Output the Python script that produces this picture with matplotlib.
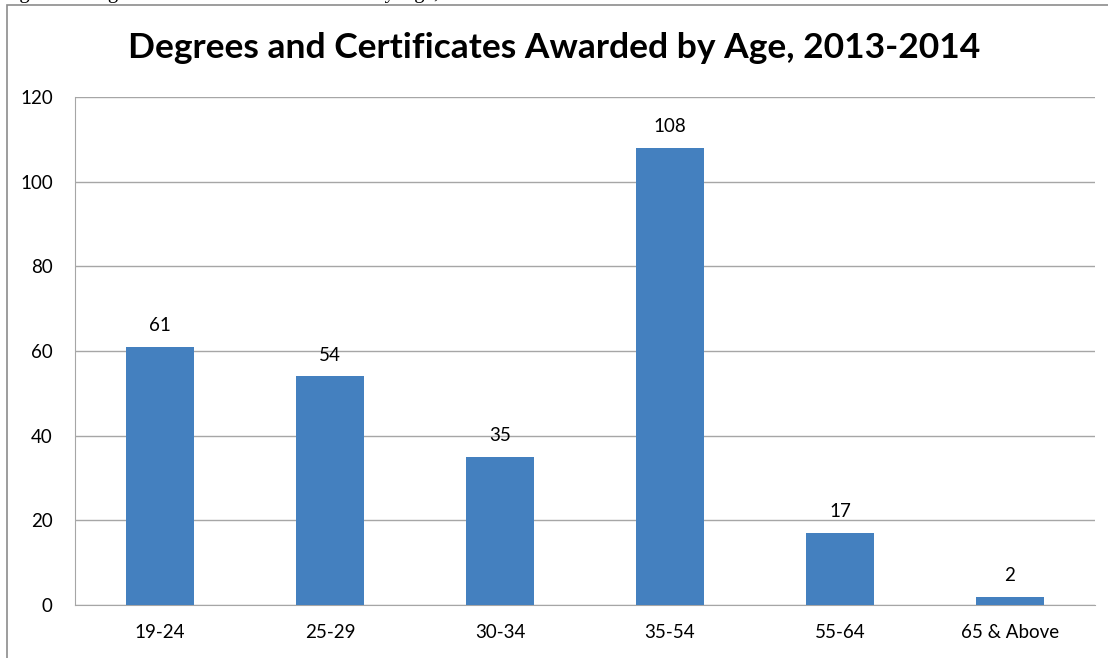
import matplotlib.pyplot as plt
from matplotlib.patches import Rectangle

# data
age_groups = ["19-24", "25-29", "30-34", "35-54", "55-64", "65 & Above"]
awards = [61, 54, 35, 108, 17, 2]
y_ticks = [0, 20, 40, 60, 80, 100, 120]

plt.rcParams['font.family'] = ['Lato', 'DejaVu Sans']

fig = plt.figure(figsize=(11.08, 6.58), dpi=100)

# caption of the page, mostly cut off at the top edge
fig.text(0.002, 1 + 2 / 658, "Figure 8: Degrees and Certificates Awarded by Age, 2013-2014",
         family='Liberation Serif', fontsize=15, va='baseline', ha='left')

# chart frame
fig.patches.append(Rectangle((7 / 1108, -0.1), 1.2, 1 - 5 / 658 + 0.1,
                             transform=fig.transFigure, fill=False,
                             edgecolor='#8c8c8c', linewidth=1.2))

ax = fig.add_axes([75 / 1108, 53 / 658, 1020 / 1108, 508 / 658])
x = range(len(age_groups))
bars = ax.bar(x, awards, width=0.4, color='#4480bf', zorder=3)
for b, v in zip(bars, awards):
    ax.text(b.get_x() + b.get_width() / 2, v + 3, str(v),
            ha='center', va='bottom', fontsize=13.5)

ax.set_xlim(-0.5, len(age_groups) - 0.5)
ax.set_ylim(0, 120)
ax.set_yticks(y_ticks)
ax.set_xticks(list(x))
ax.set_xticklabels(age_groups)
ax.tick_params(axis='both', length=0, labelsize=13.5, pad=14)
ax.tick_params(axis='y', pad=16)
ax.yaxis.grid(True, color='#a6a6a6', linewidth=1, zorder=0)
for side in ['top', 'right']:
    ax.spines[side].set_visible(False)
for side in ['left', 'bottom']:
    ax.spines[side].set_color('#a6a6a6')

fig.text(0.5, 1 - 48 / 658, "Degrees and Certificates Awarded by Age, 2013-2014",
         ha='center', va='center', fontsize=25.5, fontweight='bold')

fig.savefig("out.png", dpi=100)
